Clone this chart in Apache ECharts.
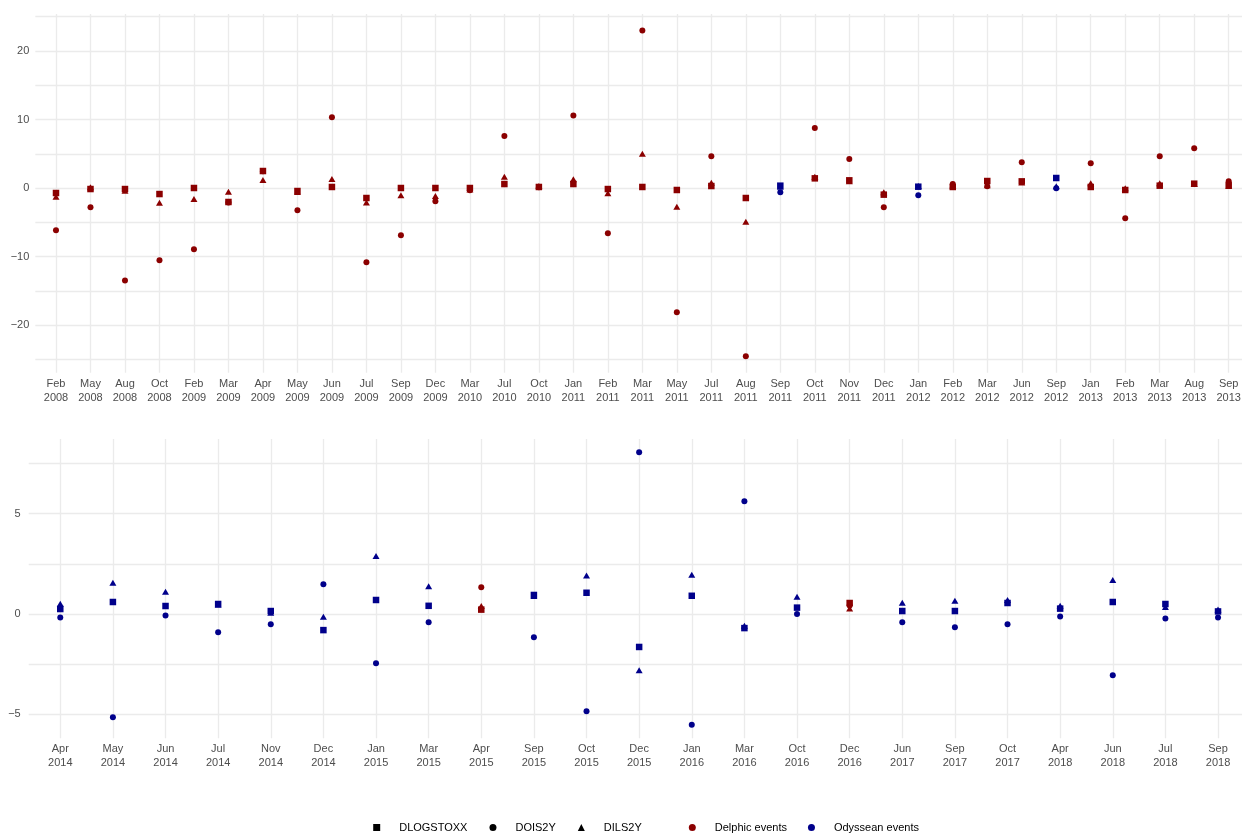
<!DOCTYPE html>
<html>
<head>
<meta charset="utf-8">
<script src="https://cdn.jsdelivr.net/npm/echarts@6/dist/echarts.min.js"></script>
<style>
html,body{margin:0;padding:0;background:#fff;}
#chart{width:1242px;height:834px;}
</style>
</head>
<body>
<div id="chart"></div>
<script>
// ---------- DATA ----------
const topCategories = ['Feb 2008','May 2008','Aug 2008','Oct 2008','Feb 2009','Mar 2009','Apr 2009','May 2009','Jun 2009','Jul 2009','Sep 2009','Dec 2009','Mar 2010','Jul 2010','Oct 2010','Jan 2011','Feb 2011','Mar 2011','May 2011','Jul 2011','Aug 2011','Sep 2011','Oct 2011','Nov 2011','Dec 2011','Jan 2012','Feb 2012','Mar 2012','Jun 2012','Sep 2012','Jan 2013','Feb 2013','Mar 2013','Aug 2013','Sep 2013'];
const topEvents = ['D','D','D','D','D','D','D','D','D','D','D','D','D','D','D','D','D','D','D','D','D','O','D','D','D','O','D','D','D','O','D','D','D','D','D'];
const topDLOGSTOXX = [-0.73,-0.15,-0.15,-0.88,0.0,-2.04,2.48,-0.44,0.15,-1.46,0.0,0.0,0.0,0.58,0.15,0.58,-0.15,0.15,-0.29,0.29,-1.46,0.34,1.41,1.12,-0.97,0.19,0.15,1.02,0.97,1.46,0.15,-0.29,0.34,0.63,0.39];
const topDOIS2Y = [-6.18,-2.82,-13.5,-10.56,-8.95,-2.1,2.45,-3.26,10.32,-10.85,-6.91,-1.95,-0.34,7.59,0.1,10.6,-6.62,23.0,-18.15,4.62,-24.57,-0.63,8.76,4.23,-2.82,-1.07,0.58,0.24,3.75,-0.05,3.6,-4.43,4.62,5.79,0.97];
const topDILS2Y = [-1.27,0.1,-0.4,-2.14,-1.6,-0.54,1.17,-0.6,1.31,-2.1,-1.07,-1.17,-0.2,1.65,0.3,1.27,-0.78,5.01,-2.73,0.78,-4.91,0.2,1.65,1.0,-0.63,0.3,0.35,0.4,0.8,0.24,0.68,-0.05,0.68,0.6,0.3];

const bottomCategories = ['Apr 2014','May 2014','Jun 2014','Jul 2014','Nov 2014','Dec 2014','Jan 2015','Mar 2015','Apr 2015','Sep 2015','Oct 2015','Dec 2015','Jan 2016','Mar 2016','Oct 2016','Dec 2016','Jun 2017','Sep 2017','Oct 2017','Apr 2018','Jun 2018','Jul 2018','Sep 2018'];
const bottomEvents = ['O','O','O','O','O','O','O','O','D','O','O','O','O','O','O','D','O','O','O','O','O','O','O'];
const bottomDLOGSTOXX = [0.25,0.6,0.4,0.5,0.15,-0.8,0.7,0.41,0.22,0.95,1.06,-1.64,0.91,-0.7,0.32,0.55,0.15,0.15,0.55,0.27,0.6,0.5,0.13];
const bottomDOIS2Y = [-0.17,-5.14,-0.07,-0.91,-0.51,1.48,-2.45,-0.41,1.34,-1.16,-4.84,8.06,-5.52,5.62,0.0,0.43,-0.41,-0.66,-0.51,-0.12,-3.05,-0.22,-0.17];
const bottomDILS2Y = [0.51,1.56,1.11,0.46,0.07,-0.13,2.89,1.38,0.4,0.9,1.92,-2.8,1.96,-0.58,0.86,0.28,0.56,0.66,0.7,0.41,1.69,0.35,0.23];

const topYGrid = [-25,-20,-15,-10,-5,0,5,10,15,20,25];
const topYLabels = [-20,-10,0,10,20];
const bottomYGrid = [-5,-2.5,0,2.5,5,7.5];
const bottomYLabels = [-5,0,5];

const seriesNames = ['DLOGSTOXX','DOIS2Y','DILS2Y'];
const eventNames = ['Delphic events','Odyssean events'];
const eventColors = ['#8B0000','#00008B'];

// ---------- CHART ----------
const FONT = "'Liberation Sans', Arial, Helvetica, sans-serif";
const AXIS_TEXT = '#4D4D4D';
const GRID_COLOR = '#EBEBEB';
const GRID_WIDTH = 1.3;

function pts(cats, vals, evs) {
  return cats.map((c, i) => [i, vals[i], evs[i] === 'D' ? 0 : 1]);
}
const minus = v => String(v).replace('-', '\u2212');

function xAxisFor(cats, gridIndex) {
  const idx = cats.map((c, i) => i);
  return {
    type: 'value', gridIndex, min: -0.6, max: cats.length - 0.4,
    axisLine: {show: false},
    axisTick: {show: false, customValues: idx},
    splitLine: {show: true, lineStyle: {color: GRID_COLOR, width: GRID_WIDTH}},
    axisLabel: {
      customValues: idx, margin: 4, color: AXIS_TEXT, fontSize: 11, fontFamily: FONT, lineHeight: 14,
      formatter: v => { const c = cats[Math.round(v)]; return c ? c.replace(' ', '\n') : ''; }
    }
  };
}
function yAxisFor(min, max, gridVals, labelVals, gridIndex, margin) {
  return {
    type: 'value', gridIndex, min, max,
    axisLine: {show: false},
    axisTick: {show: false, customValues: gridVals},
    splitLine: {show: true, lineStyle: {color: GRID_COLOR, width: GRID_WIDTH}},
    axisLabel: {customValues: labelVals, margin, color: AXIS_TEXT, fontSize: 11, fontFamily: FONT, formatter: minus}
  };
}

function panelSeries(cats, ev, sq, ci, tr, axisIndex) {
  // draw order: circles, triangles, squares (squares on top)
  return [
    {name: seriesNames[1], type: 'scatter', xAxisIndex: axisIndex, yAxisIndex: axisIndex, symbol: 'circle', symbolSize: 6, data: pts(cats, ci, ev)},
    {name: seriesNames[2], type: 'scatter', xAxisIndex: axisIndex, yAxisIndex: axisIndex, symbol: 'triangle', symbolSize: [7, 6], data: pts(cats, tr, ev)},
    {name: seriesNames[0], type: 'scatter', xAxisIndex: axisIndex, yAxisIndex: axisIndex, symbol: 'rect', symbolSize: 6.5, data: pts(cats, sq, ev)}
  ].map(s => Object.assign(s, {emphasis: {disabled: true}, itemStyle: {opacity: 1}}));
}

const chart = echarts.init(document.getElementById('chart'), null, {renderer: 'canvas'});
chart.setOption({
  backgroundColor: '#ffffff',
  animation: false,
  textStyle: {fontFamily: FONT},
  grid: [
    {left: 35.3, width: 1214.1, top: 14, height: 358.7, containLabel: false, outerBoundsMode: 'none'},
    {left: 28.7, width: 1220.9, top: 439, height: 299.3, containLabel: false, outerBoundsMode: 'none'}
  ],
  xAxis: [xAxisFor(topCategories, 0), xAxisFor(bottomCategories, 1)],
  yAxis: [
    yAxisFor(-26.96, 25.4, topYGrid, topYLabels, 0, 6),
    yAxisFor(-6.19, 8.72, bottomYGrid, bottomYLabels, 1, 8)
  ],
  legend: {
    left: 373.2, top: 822, padding: 0, orient: 'horizontal',
    itemWidth: 7, itemHeight: 7, itemGap: 22, selectedMode: false,
    formatter: '{p| }{name}',
    textStyle: {color: '#000', fontSize: 11, fontFamily: FONT, rich: {p: {width: 14}}},
    data: [
      {name: seriesNames[0], icon: 'rect', itemStyle: {color: '#000'}},
      {name: seriesNames[1], icon: 'circle', itemStyle: {color: '#000'}},
      {name: seriesNames[2], icon: 'triangle', itemStyle: {color: '#000'}}
    ]
  },
  visualMap: {
    type: 'piecewise', dimension: 2, seriesIndex: [0,1,2,3,4,5],
    orient: 'horizontal', left: 688.8, top: 822, padding: 0,
    itemWidth: 7, itemHeight: 7, itemGap: 21, textGap: 19, itemSymbol: 'circle', align: 'left',
    selectedMode: false, hoverLink: false,
    textStyle: {color: '#000', fontSize: 11, fontFamily: FONT},
    pieces: [
      {value: 0, label: eventNames[0], color: eventColors[0]},
      {value: 1, label: eventNames[1], color: eventColors[1]}
    ]
  },
  series: [
    ...panelSeries(topCategories, topEvents, topDLOGSTOXX, topDOIS2Y, topDILS2Y, 0),
    ...panelSeries(bottomCategories, bottomEvents, bottomDLOGSTOXX, bottomDOIS2Y, bottomDILS2Y, 1)
  ]
});
</script>
</body>
</html>
